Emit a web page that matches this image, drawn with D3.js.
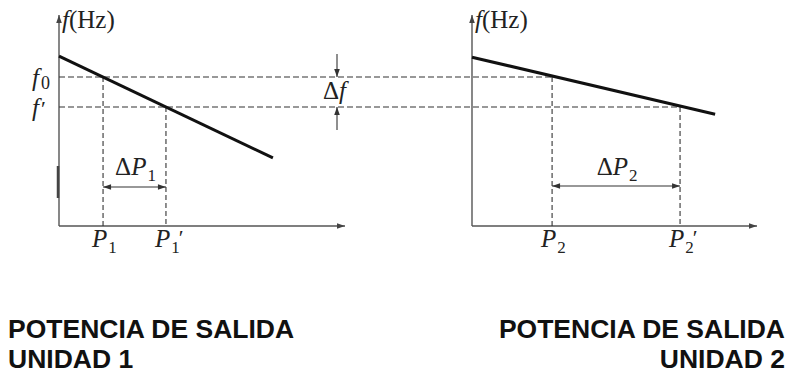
<!DOCTYPE html>
<html>
<head>
<meta charset="utf-8">
<script src="https://cdn.jsdelivr.net/npm/d3@7"></script>
<style>
  body { margin: 0; background: #fff; }
  svg { display: block; }
</style>
</head>
<body>
<div id="chart"></div>
<script>
// ---------- data ----------
const units = ["UNIDAD 1", "UNIDAD 2"];
const bottomTitle = "POTENCIA DE SALIDA";
// frequency levels (relative units on f axis 0..100)
const freqNames = ["f0", "f'"];
const freqValues = [70.6, 56.4];
// droop lines: [P, f] start and end (relative power units 0..100)
const line1 = [[0, 80.5], [74.8, 32.3]];
const line2 = [[0, 80.0], [85.3, 53.0]];
// operating points per unit: P at f0, P at f'
const unit1P = [15.4, 37.4];
const unit2P = [28.1, 73.0];
const pLabels1 = ["1", "1"];
const pLabels2 = ["2", "2"];

// ---------- scales ----------
const W = 790, H = 375;
const yF = d3.scaleLinear().domain([0, 100]).range([226, 15]);
const xL = d3.scaleLinear().domain([0, 100]).range([59, 345]);
const xR = d3.scaleLinear().domain([0, 100]).range([472, 757]);

const svg = d3.select("#chart").append("svg").attr("width", W).attr("height", H);
const defs = svg.append("defs");
function marker(id, color, w, h) {
  defs.append("marker").attr("id", id)
    .attr("viewBox", "0 0 10 10").attr("refX", 10).attr("refY", 5)
    .attr("markerWidth", w).attr("markerHeight", h)
    .attr("markerUnits", "userSpaceOnUse")
    .attr("orient", "auto-start-reverse")
    .append("path").attr("d", "M0,1.5 L10,5 L0,8.5 Z").attr("fill", color);
}
marker("arr", "#333", 9, 8);
marker("axarr", "#444", 11, 8);

const serif = "'Liberation Serif', 'DejaVu Serif', serif";
const axisColor = "#555";
const dashColor = "#333";
const FS = 25, SUB = 17;

// ---------- axes ----------
function drawAxes(xs) {
  svg.append("line")
    .attr("x1", xs(0)).attr("y1", yF(0)).attr("x2", xs(0)).attr("y2", yF(100))
    .attr("stroke", axisColor).attr("stroke-width", 1.4).attr("marker-end", "url(#axarr)");
  svg.append("line")
    .attr("x1", xs(0)).attr("y1", yF(0)).attr("x2", xs(100)).attr("y2", yF(0))
    .attr("stroke", axisColor).attr("stroke-width", 1.6).attr("marker-end", "url(#axarr)");
  const t = svg.append("text").attr("x", xs(0) + 3).attr("y", 28)
    .attr("font-family", serif).attr("font-size", FS).attr("fill", "#222");
  t.append("tspan").attr("font-style", "italic").text("f");
  t.append("tspan").text("(Hz)");
}
drawAxes(xL);
drawAxes(xR);
// thicker scan artifact on left axis
svg.append("line").attr("x1", xL(0) - 1).attr("x2", xL(0) - 1)
  .attr("y1", 166).attr("y2", 198).attr("stroke", "#444").attr("stroke-width", 2.5);

// ---------- horizontal dashed lines ----------
svg.append("line").attr("x1", xL(0)).attr("x2", xR(unit2P[0]))
  .attr("y1", yF(freqValues[0])).attr("y2", yF(freqValues[0]))
  .attr("stroke", dashColor).attr("stroke-width", 1.1).attr("stroke-dasharray", "6,3");
svg.append("line").attr("x1", xL(0)).attr("x2", xR(unit2P[1]))
  .attr("y1", yF(freqValues[1])).attr("y2", yF(freqValues[1]))
  .attr("stroke", dashColor).attr("stroke-width", 1.1).attr("stroke-dasharray", "6,3");

// ---------- vertical dashed lines ----------
function vdash(xs, p, f) {
  svg.append("line").attr("x1", xs(p)).attr("x2", xs(p))
    .attr("y1", yF(f)).attr("y2", yF(0))
    .attr("stroke", dashColor).attr("stroke-width", 1.1).attr("stroke-dasharray", "5,3");
}
vdash(xL, unit1P[0], freqValues[0]);
vdash(xL, unit1P[1], freqValues[1]);
vdash(xR, unit2P[0], freqValues[0]);
vdash(xR, unit2P[1], freqValues[1]);

// ---------- droop lines ----------
function droop(xs, pts) {
  svg.append("path")
    .attr("d", d3.line().x(d => xs(d[0])).y(d => yF(d[1]))(pts))
    .attr("fill", "none").attr("stroke", "#111").attr("stroke-width", 3);
}
droop(xL, line1);
droop(xR, line2);

// ---------- f labels ----------
const fl0 = svg.append("text").attr("x", 32).attr("y", yF(freqValues[0]) + 9)
  .attr("font-family", serif).attr("font-size", FS).attr("fill", "#222");
fl0.append("tspan").attr("font-style", "italic").text("f");
fl0.append("tspan").attr("font-size", SUB + 1).attr("dy", 3).attr("dx", 2).text("0");
const fl1 = svg.append("text").attr("x", 32).attr("y", yF(freqValues[1]) + 9)
  .attr("font-family", serif).attr("font-size", FS).attr("fill", "#222");
fl1.append("tspan").attr("font-style", "italic").text("f");
fl1.append("tspan").attr("font-size", 22).attr("dx", 2).text("′");

// ---------- Δf indicator ----------
const dfx = 337;
svg.append("line").attr("x1", dfx).attr("x2", dfx).attr("y1", 54).attr("y2", yF(freqValues[0]))
  .attr("stroke", "#333").attr("stroke-width", 1.1).attr("marker-end", "url(#arr)");
svg.append("line").attr("x1", dfx).attr("x2", dfx).attr("y1", 130).attr("y2", yF(freqValues[1]))
  .attr("stroke", "#333").attr("stroke-width", 1.1).attr("marker-end", "url(#arr)");
const dft = svg.append("text").attr("x", 323).attr("y", 99)
  .attr("font-family", serif).attr("font-size", FS).attr("fill", "#222");
dft.append("tspan").text("Δ");
dft.append("tspan").attr("font-style", "italic").text("f");

// ---------- ΔP indicators ----------
function deltaP(xs, ps, sub, y, labelY) {
  svg.append("line").attr("x1", xs(ps[0])).attr("x2", xs(ps[1])).attr("y1", y).attr("y2", y)
    .attr("stroke", "#333").attr("stroke-width", 1.1)
    .attr("marker-start", "url(#arr)").attr("marker-end", "url(#arr)");
  const t = svg.append("text").attr("x", (xs(ps[0]) + xs(ps[1])) / 2 + 1).attr("y", labelY)
    .attr("text-anchor", "middle")
    .attr("font-family", serif).attr("font-size", FS).attr("fill", "#222");
  t.append("tspan").text("Δ");
  t.append("tspan").attr("font-style", "italic").text("P");
  t.append("tspan").attr("font-size", SUB).attr("dy", 6).attr("dx", 1).text(sub);
}
deltaP(xL, unit1P, pLabels1[0], 187, 175);
deltaP(xR, unit2P, pLabels2[0], 186, 175);

// ---------- P tick labels ----------
function pLabel(xs, p, sub, prime) {
  const t = svg.append("text").attr("x", xs(p) - 11).attr("y", 247)
    .attr("font-family", serif).attr("font-size", FS).attr("fill", "#222");
  t.append("tspan").attr("font-style", "italic").text("P");
  t.append("tspan").attr("font-size", SUB).attr("dy", 6).attr("dx", 1).text(sub);
  if (prime) {
    t.append("tspan").attr("font-size", 22).attr("dy", -8).attr("dx", -1).text("′");
  }
}
pLabel(xL, unit1P[0], pLabels1[0], false);
pLabel(xL, unit1P[1], pLabels1[1], true);
pLabel(xR, unit2P[0], pLabels2[0], false);
pLabel(xR, unit2P[1], pLabels2[1], true);

// ---------- bottom titles ----------
const sans = "'Liberation Sans', Arial, sans-serif";
const BF = 26.5;
svg.append("text").attr("x", 8).attr("y", 338).attr("font-family", sans)
  .attr("font-weight", "bold").attr("font-size", BF).attr("fill", "#111").text(bottomTitle);
svg.append("text").attr("x", 8).attr("y", 368).attr("font-family", sans)
  .attr("font-weight", "bold").attr("font-size", BF).attr("fill", "#111").text(units[0]);
svg.append("text").attr("x", 785).attr("y", 338).attr("text-anchor", "end").attr("font-family", sans)
  .attr("font-weight", "bold").attr("font-size", BF).attr("fill", "#111").text(bottomTitle);
svg.append("text").attr("x", 785).attr("y", 368).attr("text-anchor", "end").attr("font-family", sans)
  .attr("font-weight", "bold").attr("font-size", BF).attr("fill", "#111").text(units[1]);
</script>
</body>
</html>
